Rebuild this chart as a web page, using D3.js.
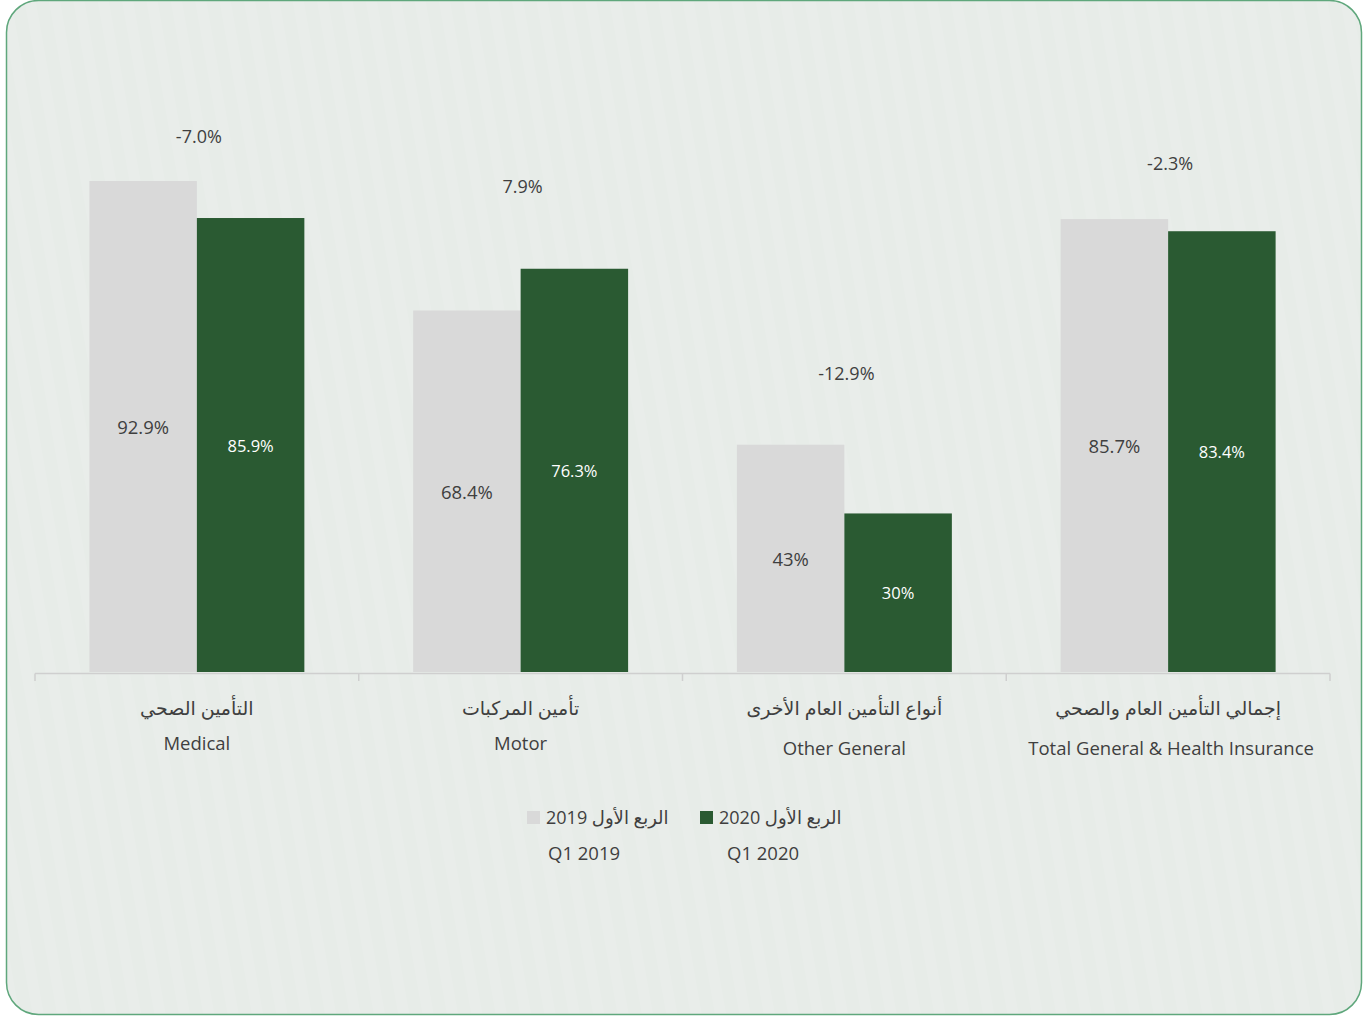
<!DOCTYPE html>
<html>
<head>
<meta charset="utf-8">
<script src="https://cdn.jsdelivr.net/npm/d3@7"></script>
<style>
  html, body { margin: 0; padding: 0; background: #ffffff; }
  svg text { font-family: "Open Sans", "DejaVu Sans", sans-serif; fill: #3f3f3f; }
</style>
</head>
<body>
<svg id="canvas" width="1368" height="1016"></svg>
<script>
// chart values
let categoriesAr = ["التأمين الصحي", "تأمين المركبات", "أنواع التأمين العام الأخرى", "إجمالي التأمين العام والصحي"]
let categoriesEn = ["Medical", "Motor", "Other General", "Total General & Health Insurance"]
let q1_2019 = [92.9, 68.4, 43, 85.7]
let q1_2020 = [85.9, 76.3, 30, 83.4]
let valueLabels2019 = ["92.9%", "68.4%", "43%", "85.7%"]
let valueLabels2020 = ["85.9%", "76.3%", "30%", "83.4%"]
let changeLabels = ["-7.0%", "7.9%", "-12.9%", "-2.3%"]
// where the change label sits, in value units (hidden series in the source chart)
let changeAnchor = [101.4, 92, 56.6, 96.3]
let seriesAr = ["الربع الأول 2019", "الربع الأول 2020"]
let seriesEn = ["Q1 2019", "Q1 2020"]

let canvas = d3.select('#canvas')
let width = 1368, height = 1016

// background with faint diagonal stripes
let defs = canvas.append('defs')
let pat = defs.append('pattern')
  .attr('id', 'stripes')
  .attr('patternUnits', 'userSpaceOnUse')
  .attr('width', 24).attr('height', 24)
  .attr('patternTransform', 'rotate(-10)')
pat.append('rect').attr('width', 24).attr('height', 24).attr('fill', '#e7ece8')
pat.append('rect').attr('width', 11).attr('height', 24).attr('fill', '#e9edea')

canvas.append('rect')
  .attr('x', 6.5).attr('y', 0.5)
  .attr('width', 1355).attr('height', 1014)
  .attr('rx', 32).attr('ry', 32)
  .attr('fill', 'url(#stripes)')
  .attr('stroke', '#5fa77c')
  .attr('stroke-width', 1.5)

let baseY = 672
let x0 = d3.scaleBand()
  .domain(d3.range(categoriesEn.length))
  .range([35, 1330])
  .paddingInner(0.336)
  .paddingOuter(0.168)

let x1 = d3.scaleBand()
  .domain([0, 1])
  .range([0, x0.bandwidth()])

let y = d3.scaleLinear().domain([0, 100]).range([baseY, 143.5])

let colors = ['#d9d9d9', '#2a5a32']
let series = [q1_2019, q1_2020]
let seriesLabels = [valueLabels2019, valueLabels2020]

let groups = canvas.append('g').attr('class', 'bars')
  .selectAll('g')
  .data(d3.range(categoriesEn.length))
  .enter()
  .append('g')
  .attr('transform', i => 'translate(' + x0(i) + ',0)')

series.forEach((vals, s) => {
  groups.append('rect')
    .attr('x', x1(s))
    .attr('y', i => y(vals[i]))
    .attr('width', x1.bandwidth())
    .attr('height', i => baseY - y(vals[i]))
    .attr('fill', colors[s])

  groups.append('text')
    .attr('x', x1(s) + x1.bandwidth() / 2)
    .attr('y', i => (y(vals[i]) + baseY) / 2)
    .attr('text-anchor', 'middle')
    .attr('dominant-baseline', 'central')
    .style('font-size', s === 0 ? '18.5px' : '16.5px')
    .style('fill', s === 0 ? '#3f3f3f' : '#ffffff')
    .text(i => seriesLabels[s][i])
})

// change labels
groups.append('text')
  .attr('x', x0.bandwidth() / 2 + 2)
  .attr('y', i => y(changeAnchor[i]))
  .attr('text-anchor', 'middle')
  .attr('dominant-baseline', 'central')
  .style('font-size', '18px')
  .text(i => changeLabels[i])

// category axis
let axisG = canvas.append('g').attr('class', 'axis')
axisG.append('line')
  .attr('x1', 35).attr('x2', 1330)
  .attr('y1', baseY + 1.5).attr('y2', baseY + 1.5)
  .attr('stroke', '#cfcfcf').attr('stroke-width', 1.5)
let step = x0.step()
d3.range(categoriesEn.length + 1).forEach(k => {
  let tx = 35 + k * step
  axisG.append('line')
    .attr('x1', tx).attr('x2', tx)
    .attr('y1', baseY + 1.5).attr('y2', baseY + 9)
    .attr('stroke', '#cfcfcf').attr('stroke-width', 1.5)
})

let engDy = [0, 0, 5, 5]
let centerX = i => x0(i) + x0.bandwidth() / 2
axisG.selectAll('text.ar')
  .data(d3.range(categoriesAr.length))
  .enter()
  .append('text')
  .attr('class', 'ar')
  .attr('x', centerX)
  .attr('y', 708)
  .attr('direction', 'rtl')
  .attr('text-anchor', 'middle')
  .attr('dominant-baseline', 'central')
  .style('font-size', '19px')
  .text(i => categoriesAr[i])

axisG.selectAll('text.en')
  .data(d3.range(categoriesEn.length))
  .enter()
  .append('text')
  .attr('class', 'en')
  .attr('x', i => centerX(i) + (i === 3 ? 3 : 0))
  .attr('y', i => 742 + engDy[i])
  .attr('text-anchor', 'middle')
  .attr('dominant-baseline', 'central')
  .style('font-size', '18.5px')
  .text(i => categoriesEn[i])

// legend
let legendX = [527, 700]
let legend = canvas.append('g').attr('class', 'legend')
seriesAr.forEach((label, s) => {
  legend.append('rect')
    .attr('x', legendX[s]).attr('y', 811)
    .attr('width', 13).attr('height', 13)
    .attr('fill', colors[s])
  legend.append('text')
    .attr('x', legendX[s] + 19)
    .attr('y', 817)
    .attr('direction', 'ltr')
    .attr('text-anchor', 'start')
    .attr('dominant-baseline', 'central')
    .style('font-size', '18px')
    .style('unicode-bidi', 'plaintext')
    .text('\u202B' + label + '\u202C')
  legend.append('text')
    .attr('x', legendX[s] + 21 + s * 6)
    .attr('y', 852)
    .attr('text-anchor', 'start')
    .attr('dominant-baseline', 'central')
    .style('font-size', '18.5px')
    .text(seriesEn[s])
})
</script>
</body>
</html>
